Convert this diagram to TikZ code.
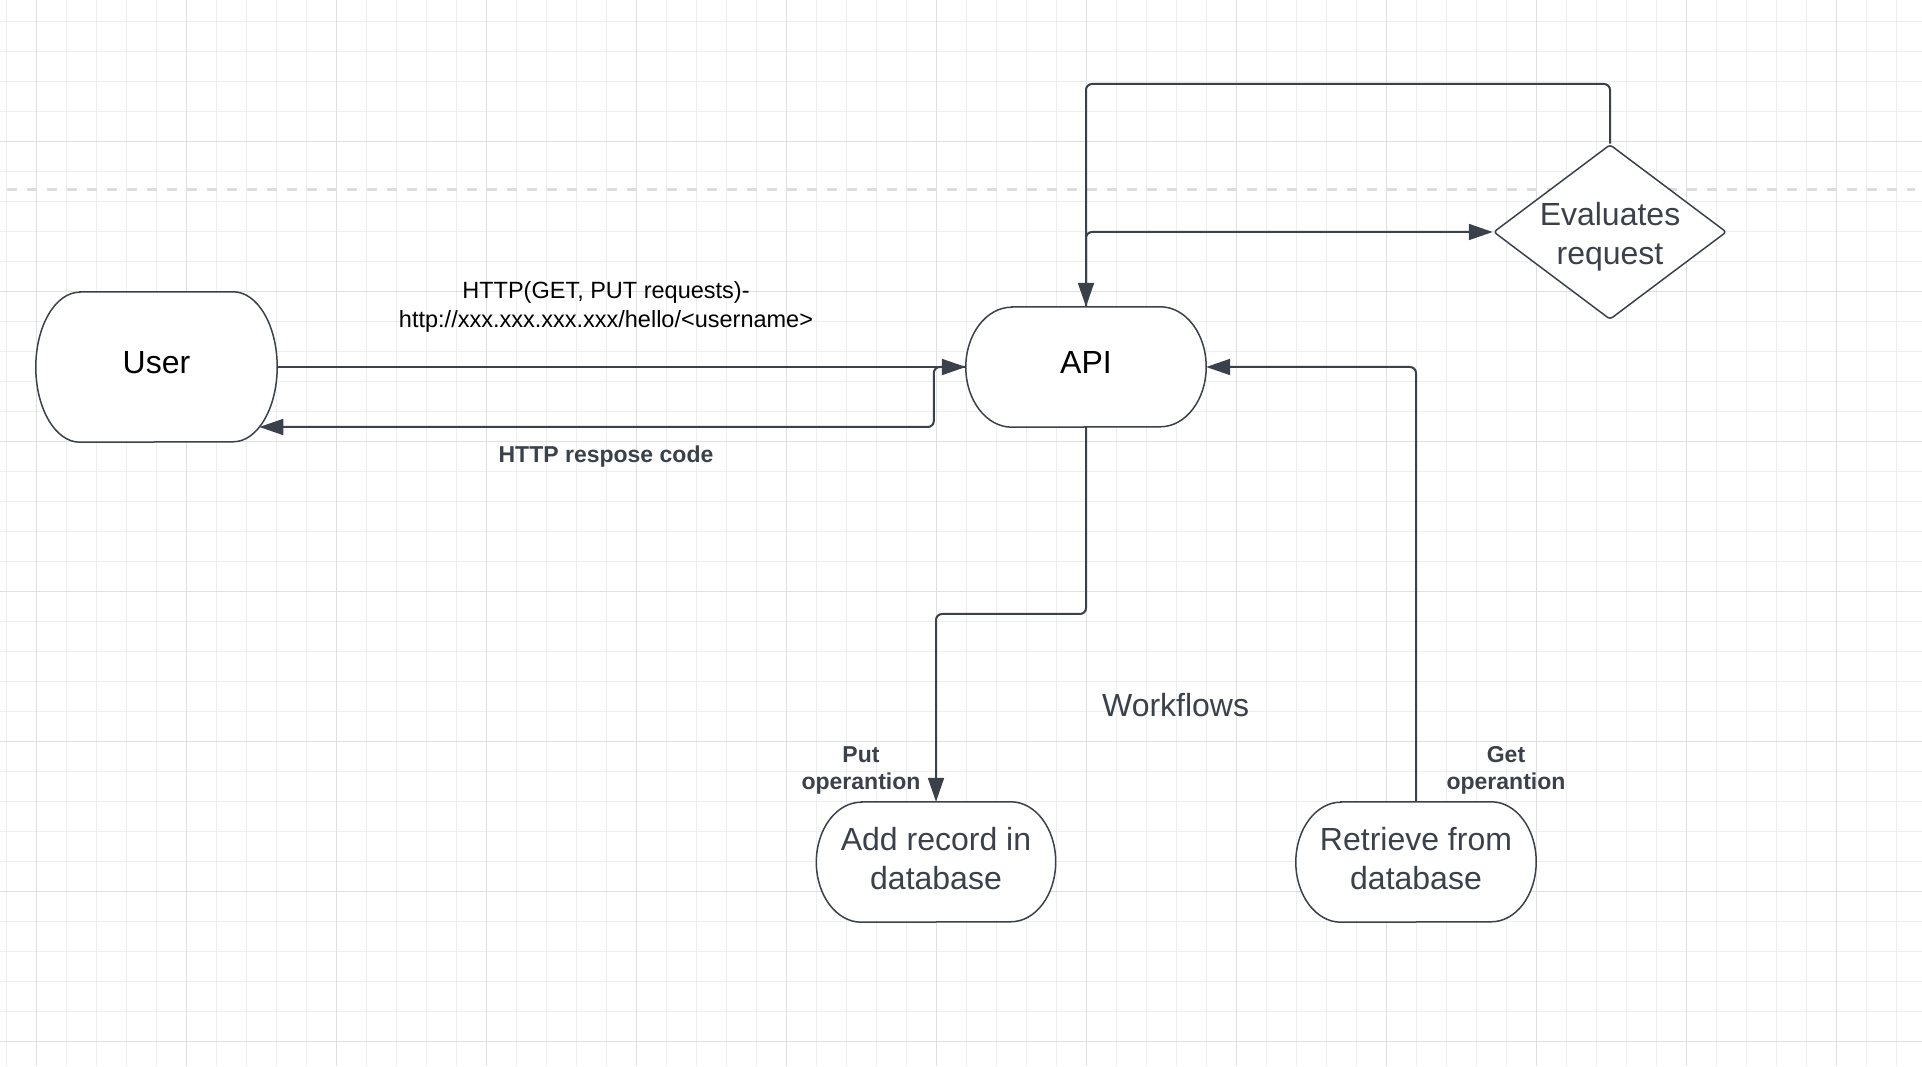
\documentclass[tikz,border=0pt]{standalone}
\usepackage{fontspec}
\setmainfont{Liberation Sans}
\usetikzlibrary{arrows.meta,shapes.geometric}
\pgfdeclarelayer{gridlayer}
\pgfdeclarelayer{bg}
\pgfsetlayers{gridlayer,bg,main}
\definecolor{ink}{HTML}{3A414A}
\definecolor{gridminor}{HTML}{EEEEEE}
\definecolor{gridmajor}{HTML}{DFDFDF}
\definecolor{dashgray}{HTML}{DDDDDD}
\newcommand{\termoutline}[3]{%
  \draw[termline] ([xshift=#2pt]#1.north west) -- ([xshift=-#2pt]#1.north east)
    arc[start angle=90,end angle=-90,x radius=#2pt,y radius=#3pt]
    -- ([xshift=#2pt]#1.south west)
    arc[start angle=270,end angle=90,x radius=#2pt,y radius=#3pt] -- cycle;}
\begin{document}
\begin{tikzpicture}[x=1pt,y=1pt,
  termline/.style={draw=ink,line width=1.5pt,fill=white},
  conn/.style={draw=ink,line width=2pt,rounded corners=6pt},
  arrowend/.style={-{Triangle[length=24pt,width=16pt]}},
  termbox/.style={rectangle,inner sep=0pt,font=\fontsize{32}{39.5}\selectfont,align=center},
  lbl/.style={inner sep=0pt,font=\fontsize{23.5}{28.2}\selectfont,align=center},
  boldlbl/.style={inner sep=0pt,font=\fontsize{23}{27.5}\selectfont\bfseries,align=center,text=ink},
  bigtext/.style={inner sep=0pt,font=\fontsize{32}{39.5}\selectfont,align=center}
]
\useasboundingbox (0,0) rectangle (1922,1066);
\begin{pgfonlayer}{gridlayer}
  \fill[white] (0,0) rectangle (1922,1066);
  \foreach \k in {0,...,64} \draw[gridminor,line width=1pt] ({6.7+30*\k},0) -- ({6.7+30*\k},1066);
  \foreach \k in {0,...,35} \draw[gridminor,line width=1pt] (0,{1044.3-30*\k}) -- (1922,{1044.3-30*\k});
  \foreach \k in {0,...,12} \draw[gridmajor,line width=1.3pt] ({36.7+150*\k},0) -- ({36.7+150*\k},1066);
  \foreach \k in {0,...,6} \draw[gridmajor,line width=1.3pt] (0,{924.3-150*\k}) -- (1922,{924.3-150*\k});
  \draw[dashgray,line width=3pt,dash pattern=on 10pt off 10pt] (7,876) -- (1915,876);
\end{pgfonlayer}

% nodes
\node[termbox,minimum width=241pt,minimum height=150pt,text height=23pt,text depth=10pt] (user) at (156.5,699) {User};
\node[termbox,minimum width=240pt,minimum height=120pt,text height=23pt,text depth=9pt] (api) at (1086,699) {API};
\node[termbox,minimum width=239pt,minimum height=120pt,text=ink,text depth=7.5pt] (add) at (936,204) {Add record in\\database};
\node[termbox,minimum width=240pt,minimum height=120pt,text=ink,text depth=7.5pt] (ret) at (1416,204) {Retrieve from\\database};
\node[diamond,draw=ink,line width=1.5pt,fill=white,rounded corners=3pt,aspect=1.331,inner sep=0pt,
      minimum width=233pt,minimum height=175pt] (eval) at (1610,834) {};
\node[inner sep=0pt,text=ink,font=\fontsize{32}{39.3}\selectfont,align=center]
      (evaltext) at ([yshift=-5pt]eval.center) {Evaluates\\request};

\begin{pgfonlayer}{bg}
  \termoutline{user}{44}{75}
  \termoutline{api}{46}{60}
  \termoutline{add}{45}{60}
  \termoutline{ret}{45}{60}
\end{pgfonlayer}

% helper coordinates
\coordinate (uret) at (259.4,639);
\coordinate (loop) at (1086,982);
\coordinate (putbend) at (1086,452);

% connectors
\draw[conn,arrowend] (user.east) -- (api.west);
\draw[conn,arrowend] (api.west) -- ++(-32,0) |- (uret);
\draw[conn,arrowend] (api.north) |- (eval.west);
\draw[conn,arrowend] (eval.north) |- (loop) -- (api.north);
\draw[conn,arrowend] (api.south) -- (putbend) -| (add.north);
\draw[conn,arrowend] (ret.north) |- (api.east);

% labels
\node[lbl,text=black] (httpreq) at (606,759) {HTTP(GET, PUT requests)-\\http://xxx.xxx.xxx.xxx/hello/<username>};
\node[boldlbl] (httpresp) at (606,609) {HTTP respose code};
\node[boldlbl] (putlbl) at (861,295.5) {Put\\operantion};
\node[boldlbl] (getlbl) at (1506,295.5) {Get\\operantion};
\node[bigtext,text=ink] (wf) at (1175.6,361) {Workflows};
\end{tikzpicture}
\end{document}
